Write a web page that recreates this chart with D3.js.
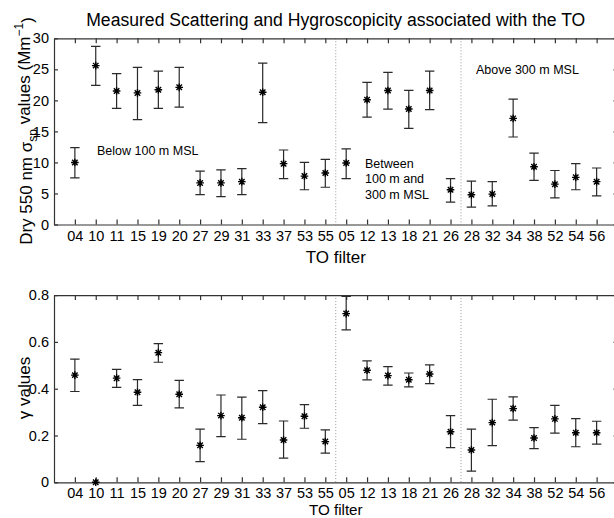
<!DOCTYPE html>
<html lang="en">
<head>
  <meta charset="utf-8">
  <title>Measured Scattering and Hygroscopicity</title>
  <script src="https://cdn.jsdelivr.net/npm/d3@7"></script>
  <style>
    body { margin: 0; background: #fff; }
    svg { display: block; }
    text { font-family: "Liberation Sans", Arial, Helvetica, sans-serif; fill: #000; }
    .axis path, .axis line { stroke: #333; stroke-width: 1.2; fill: none; }
    .axis text { font-size: 14.5px; }
    .err { stroke: #2a2a2a; stroke-width: 1.2; fill: none; }
    .star { stroke: #000; stroke-width: 1.4; fill: none; }
    .divider { stroke: #999; stroke-dasharray: 1,2; }
  </style>
</head>
<body>
<script>
  // TO filter categories, in plot order
  var categories = ["04", "10", "11", "15", "19", "20", "27", "29", "31", "33", "37", "53", "55",
                    "05", "12", "13", "18", "21", "26",
                    "28", "32", "34", "38", "52", "54", "56"];
  // dotted group separators sit after these filters
  var groupEnds = ["55", "26"];

  // dry 550 nm scattering (Mm^-1)
  var scatMean = [10.0, 25.6, 21.5, 21.2, 21.7, 22.1, 6.7, 6.7, 6.9, 21.3, 9.8, 7.8, 8.3,
                  9.9, 20.1, 21.6, 18.6, 21.6, 5.6,
                  4.8, 4.9, 17.1, 9.3, 6.5, 7.6, 6.9];
  var scatLow  = [7.5, 22.4, 18.7, 16.9, 18.7, 18.9, 4.8, 4.5, 4.8, 16.4, 7.4, 5.6, 6.0,
                  7.4, 17.3, 18.6, 15.5, 18.5, 3.6,
                  2.8, 3.0, 14.1, 7.1, 4.3, 5.6, 4.6];
  var scatHigh = [12.4, 28.7, 24.3, 25.3, 24.7, 25.3, 8.6, 8.8, 9.0, 26.0, 12.0, 10.0, 10.5,
                  12.2, 22.9, 24.5, 21.6, 24.7, 7.4,
                  7.0, 6.9, 20.2, 11.5, 8.7, 9.8, 9.1];

  // hygroscopic growth exponent gamma
  var gammaMean = [0.458, 0.0, 0.445, 0.385, 0.554, 0.376, 0.158, 0.285, 0.276, 0.321, 0.181, 0.282, 0.174,
                   0.721, 0.479, 0.456, 0.438, 0.463, 0.216,
                   0.138, 0.255, 0.315, 0.189, 0.271, 0.212, 0.212];
  var gammaLow  = [0.388, null, 0.406, 0.329, 0.513, 0.318, 0.088, 0.195, 0.184, 0.251, 0.103, 0.231, 0.125,
                   0.651, 0.438, 0.415, 0.408, 0.422, 0.148,
                   0.048, 0.157, 0.266, 0.144, 0.210, 0.152, 0.163];
  var gammaHigh = [0.526, null, 0.483, 0.439, 0.593, 0.436, 0.227, 0.373, 0.364, 0.392, 0.262, 0.332, 0.224,
                   0.794, 0.519, 0.494, 0.467, 0.502, 0.285,
                   0.227, 0.355, 0.365, 0.234, 0.329, 0.272, 0.261];

  var scatTicks = [0, 5, 10, 15, 20, 25, 30];
  var gammaTicks = [0, 0.2, 0.4, 0.6, 0.8];

  var width = 614, height = 518;
  var left = 54, right = 617.5;

  var svg = d3.select("body").append("svg")
    .attr("width", width)
    .attr("height", height);

  var x = d3.scaleLinear()
    .domain([0, categories.length + 1])
    .range([left, right]);

  function pos(i) { return x(i + 1); }

  function starPath(s) {
    var a = s * 0.72;
    return "M" + (-s) + ",0L" + s + ",0M0," + (-s) + "L0," + s +
      "M" + (-a) + "," + (-a) + "L" + a + "," + a + "M" + (-a) + "," + a + "L" + a + "," + (-a);
  }

  function panel(top, bottom, means, lows, highs, ticks, tickFmt, labelPad) {
    var y = d3.scaleLinear()
      .domain([ticks[0], ticks[ticks.length - 1]])
      .range([bottom, top]);

    var g = svg.append("g");

    // group separators
    groupEnds.forEach(function(c) {
      var i = categories.indexOf(c);
      var xm = (pos(i) + pos(i + 1)) / 2;
      g.append("line")
        .attr("class", "divider")
        .attr("x1", xm).attr("x2", xm)
        .attr("y1", top).attr("y2", bottom);
    });

    g.append("g")
      .attr("class", "axis")
      .attr("transform", "translate(0," + bottom + ")")
      .call(d3.axisBottom(x)
        .tickValues(d3.range(1, categories.length + 1))
        .tickFormat(function(d) { return categories[d - 1]; })
        .tickSizeInner(-5).tickSizeOuter(0).tickPadding(labelPad));

    g.append("g")
      .attr("class", "axis")
      .attr("transform", "translate(0," + top + ")")
      .call(d3.axisTop(x)
        .tickValues(d3.range(1, categories.length + 1))
        .tickFormat("")
        .tickSizeInner(-5).tickSizeOuter(0));

    g.append("g")
      .attr("class", "axis")
      .attr("transform", "translate(" + left + ",0)")
      .call(d3.axisLeft(y)
        .tickValues(ticks)
        .tickFormat(tickFmt)
        .tickSizeInner(-4).tickSizeOuter(0).tickPadding(5));

    g.append("g")
      .attr("class", "axis")
      .attr("transform", "translate(" + right + ",0)")
      .call(d3.axisRight(y)
        .tickValues(ticks)
        .tickFormat("")
        .tickSizeInner(-4).tickSizeOuter(0));

    var pts = categories.map(function(c, i) {
      return { i: i, m: means[i], lo: lows[i], hi: highs[i] };
    });

    g.append("g").selectAll("path")
      .data(pts.filter(function(d) { return d.lo != null; }))
      .enter().append("path")
      .attr("class", "err")
      .attr("d", function(d) {
        var cx = pos(d.i), w = 4.7;
        return "M" + cx + "," + y(d.lo) + "L" + cx + "," + y(d.hi) +
          "M" + (cx - w) + "," + y(d.hi) + "L" + (cx + w) + "," + y(d.hi) +
          "M" + (cx - w) + "," + y(d.lo) + "L" + (cx + w) + "," + y(d.lo);
      });

    g.append("g").selectAll("path")
      .data(pts)
      .enter().append("path")
      .attr("class", "star")
      .attr("transform", function(d) { return "translate(" + pos(d.i) + "," + y(d.m) + ")"; })
      .attr("d", starPath(3.8));

    return g;
  }

  panel(38.3, 224.5, scatMean, scatLow, scatHigh, scatTicks, d3.format("d"), 6);
  panel(295.1, 482.3, gammaMean, gammaLow, gammaHigh, gammaTicks,
    function(d) { return d === 0 ? "0" : d3.format(".1f")(d); }, 5);

  // title
  svg.append("text")
    .attr("x", (left + right) / 2)
    .attr("y", 26)
    .attr("text-anchor", "middle")
    .style("font-size", "17.6px")
    .text("Measured Scattering and Hygroscopicity associated with the TO");

  // x labels
  svg.append("text")
    .attr("x", (left + right) / 2)
    .attr("y", 262.5)
    .attr("text-anchor", "middle")
    .style("font-size", "17px")
    .text("TO filter");

  svg.append("text")
    .attr("x", (left + right) / 2)
    .attr("y", 514.6)
    .attr("text-anchor", "middle")
    .style("font-size", "15.2px")
    .text("TO filter");

  // y labels
  var yl1 = svg.append("text")
    .attr("transform", "translate(32,131) rotate(-90)")
    .attr("text-anchor", "middle")
    .style("font-size", "17px");
  yl1.append("tspan").text("Dry 550 nm \u03c3");
  yl1.append("tspan").attr("dy", "0.45em").style("font-size", "12px").text("sp");
  yl1.append("tspan").attr("dy", "-0.45em").text(" values (Mm");
  yl1.append("tspan").attr("dy", "-0.55em").style("font-size", "12px").text("\u22121");
  yl1.append("tspan").attr("dy", "0.55em").text(")");

  svg.append("text")
    .attr("transform", "translate(30,388) rotate(-90)")
    .attr("text-anchor", "middle")
    .style("font-size", "17px")
    .text("\u03b3 values");

  // region annotations
  svg.append("text")
    .attr("x", 97).attr("y", 155)
    .style("font-size", "12.5px")
    .text("Below 100 m MSL");

  svg.append("text")
    .attr("x", 476).attr("y", 74)
    .style("font-size", "12.5px")
    .text("Above 300 m MSL");

  var mid = svg.append("text")
    .attr("x", 365).attr("y", 167.5)
    .style("font-size", "12.5px");
  ["Between", "100 m and", "300 m MSL"].forEach(function(t, k) {
    mid.append("tspan")
      .attr("x", 365)
      .attr("dy", k === 0 ? 0 : 15.5)
      .text(t);
  });
</script>
</body>
</html>
